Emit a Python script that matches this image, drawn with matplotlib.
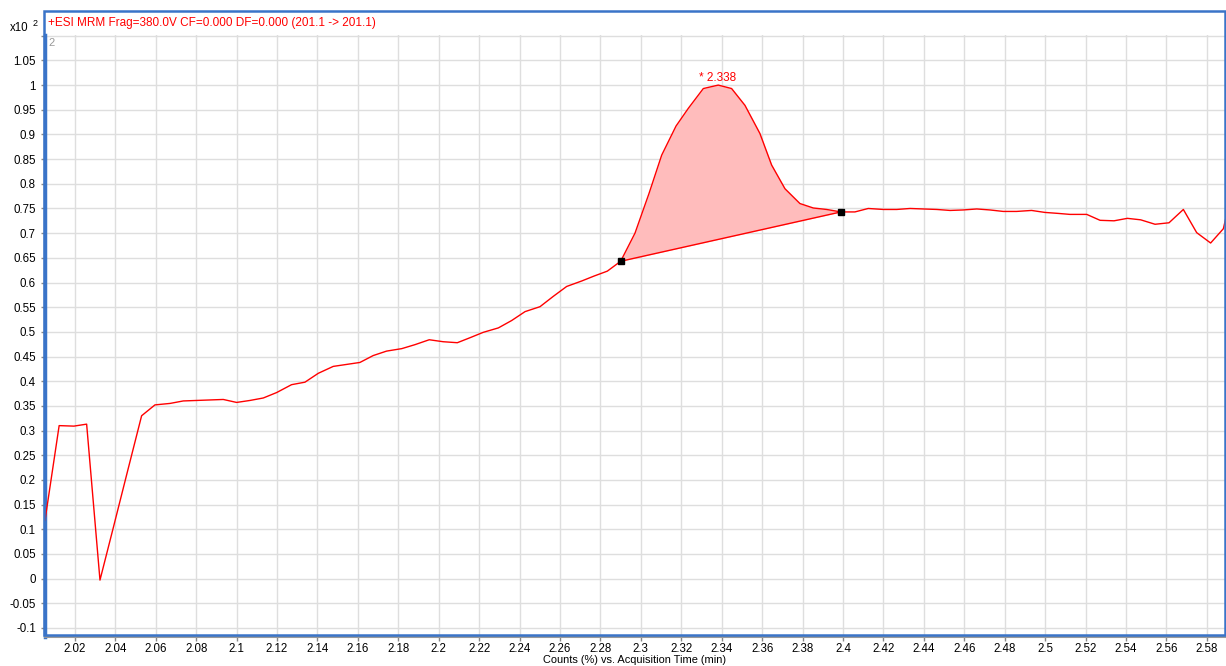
import matplotlib
matplotlib.use('Agg')
import matplotlib.pyplot as plt
from matplotlib.patches import Rectangle
from matplotlib.ticker import FormatStrFormatter, FuncFormatter, MultipleLocator
import numpy as np

plt.rcParams['font.family'] = ['Liberation Sans', 'DejaVu Sans']

# acquisition time (min) and counts (x10^2)
times = [2.0052, 2.0122, 2.0195, 2.0258, 2.0324, 2.0391, 2.0460, 2.0530, 2.0596, 2.0671,
         2.0736, 2.0802, 2.0868, 2.0934, 2.1000, 2.1066, 2.1132, 2.1198, 2.1272, 2.1338,
         2.1404, 2.1478, 2.1544, 2.1610, 2.1676, 2.1742, 2.1817, 2.1882, 2.1953, 2.2022,
         2.2092, 2.2154, 2.2220, 2.2295, 2.2361, 2.2427, 2.2501, 2.2567, 2.2633, 2.2707,
         2.2768, 2.2834, 2.2900, 2.2971, 2.3040, 2.3103, 2.3174, 2.3235, 2.3309, 2.3383,
         2.3449, 2.3515, 2.3589, 2.3647, 2.3713, 2.3787, 2.3853, 2.3919, 2.3990, 2.4059,
         2.4125, 2.4200, 2.4266, 2.4332, 2.4397, 2.4464, 2.4530, 2.4595, 2.4662, 2.4727,
         2.4793, 2.4859, 2.4933, 2.4999, 2.5065, 2.5123, 2.5206, 2.5272, 2.5341, 2.5407,
         2.5473, 2.5544, 2.5613, 2.5684, 2.5750, 2.5819, 2.5882, 2.5950]
counts = [0.118, 0.310, 0.309, 0.313, -0.003, 0.105, 0.217, 0.330, 0.352, 0.355,
          0.360, 0.361, 0.362, 0.363, 0.357, 0.361, 0.366, 0.377, 0.393, 0.398,
          0.416, 0.430, 0.434, 0.438, 0.452, 0.461, 0.466, 0.474, 0.484, 0.480,
          0.478, 0.488, 0.499, 0.508, 0.523, 0.541, 0.551, 0.572, 0.592, 0.603,
          0.613, 0.623, 0.643, 0.700, 0.780, 0.858, 0.917, 0.953, 0.993, 1.000,
          0.993, 0.959, 0.902, 0.838, 0.790, 0.760, 0.751, 0.748, 0.743, 0.743,
          0.750, 0.748, 0.748, 0.750, 0.749, 0.748, 0.746, 0.747, 0.749, 0.747,
          0.744, 0.744, 0.746, 0.742, 0.740, 0.738, 0.738, 0.726, 0.725, 0.730,
          0.727, 0.718, 0.721, 0.748, 0.701, 0.680, 0.709, 0.830]

peak_start = 42   # index of integration start
peak_end = 58     # index of integration end
peak_rt = 2.338
title = '+ESI MRM Frag=380.0V CF=0.000 DF=0.000 (201.1 -> 201.1)'

W, H = 1226, 666
fig = plt.figure(figsize=(W / 100, H / 100), dpi=100)

# plot area in pixels
left, right, top, bottom = 45, 1226, 35, 637
ax = fig.add_axes([left / W, 1 - bottom / H, (right - left) / W, (bottom - top) / H])

t = np.array(times)
c = np.array(counts)

# baseline between integration points and shaded peak
tb = t[peak_start:peak_end + 1]
base = np.interp(tb, [t[peak_start], t[peak_end]], [c[peak_start], c[peak_end]])
ax.fill_between(tb, c[peak_start:peak_end + 1], base, color='#ffbcbc', lw=0, zorder=1)
ax.plot([t[peak_start], t[peak_end]], [c[peak_start], c[peak_end]], color='#ff0000', lw=1, zorder=2)
ax.plot(t, c, color='#ff0000', lw=1, zorder=3)
ax.plot([t[peak_start], t[peak_end]], [c[peak_start], c[peak_end]], 's', color='black',
        ms=5, zorder=4, clip_on=False)
ax.text(peak_rt, 1.002, '* %.3f' % peak_rt, color='#ff0000', fontsize=8.5,
        ha='center', va='bottom')

ax.set_xlim(2.0052, 2.5895)
ax.set_ylim(-0.1183, 1.1015)
ax.xaxis.set_major_locator(MultipleLocator(0.02))
ax.yaxis.set_major_locator(MultipleLocator(0.05))
ax.xaxis.set_major_formatter(FormatStrFormatter('%g'))
# top tick (1.1) is drawn without a label
ax.yaxis.set_major_formatter(FuncFormatter(lambda v, p: '' if v > 1.075 else '%g' % round(v, 2)))
ax.grid(True, color='#dedede', lw=1)
ax.set_axisbelow(True)
ax.tick_params(axis='both', labelsize=8.3, colors='#888888', labelcolor='black',
               length=3, width=1)
ax.tick_params(axis='x', pad=1)
ax.tick_params(axis='y', pad=3.5)
for s in ['top', 'right']:
    ax.spines[s].set_visible(False)
ax.spines['left'].set_color('#3a74c8')
ax.spines['left'].set_linewidth(2.5)
ax.spines['bottom'].set_color('#999999')
ax.spines['bottom'].set_linewidth(1.5)

# blue frame around title row and plot
fig.patches.append(Rectangle((44 / W, 1 - 635 / H), (W - 45) / W, (635 - 11) / H,
                             transform=fig.transFigure, fill=False,
                             edgecolor='#3a74c8', lw=1.8))

fig.text(48 / W, 1 - 23 / H, title, color='#ff0000', fontsize=8.5, va='center', ha='left')
fig.text(10 / W, 1 - 28 / H, 'x10', fontsize=8.3, va='center', ha='left')
fig.text(33 / W, 1 - 23 / H, '2', fontsize=6.5, va='center', ha='left')
fig.text(48 / W, 1 - 43 / H, '2', fontsize=8, color='#999999', va='center', ha='left')
fig.text(635 / W, 1 - 660 / H, 'Counts (%) vs. Acquisition Time (min)', fontsize=7.9,
         ha='center', va='center')

fig.savefig('out.png', dpi=100)
